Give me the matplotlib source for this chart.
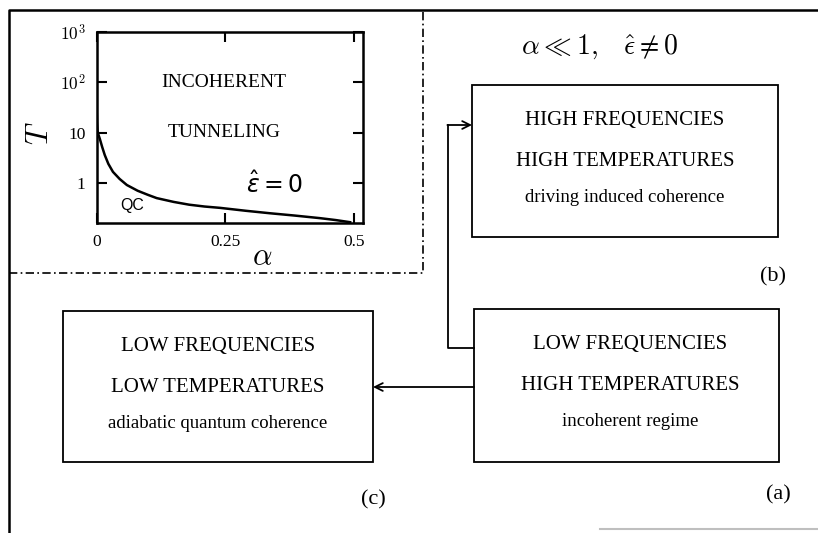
import matplotlib
matplotlib.use("Agg")
from matplotlib import pyplot as plt
from matplotlib.patches import Rectangle
import numpy as np

plt.rcParams['font.family'] = ['Liberation Serif', 'DejaVu Serif']
plt.rcParams['mathtext.fontset'] = 'cm'

# crossover curve T(alpha)
alpha = [0.0005, 0.001, 0.002, 0.0035, 0.0065, 0.011, 0.016, 0.023, 0.032,
         0.045, 0.059, 0.08, 0.1, 0.117, 0.15, 0.18, 0.21, 0.24, 0.29,
         0.337, 0.385, 0.434, 0.465, 0.493]
T = [25, 16, 11, 9.3, 7.5, 5.2, 3.6, 2.4, 1.66,
     1.2, 0.91, 0.7, 0.58, 0.5, 0.42, 0.37, 0.34, 0.32, 0.28,
     0.25, 0.225, 0.2, 0.183, 0.166]

x_ticks = [0, 0.25, 0.5]
x_ticklabels = ['0', '0.25', '0.5']
y_ticks = [1, 10, 100, 1000]
y_ticklabels = ['1', '10', r'$10^2$', r'$10^3$']

box_a = ['LOW FREQUENCIES', 'HIGH TEMPERATURES', 'incoherent regime']
box_b = ['HIGH FREQUENCIES', 'HIGH TEMPERATURES', 'driving induced coherence']
box_c = ['LOW FREQUENCIES', 'LOW TEMPERATURES', 'adiabatic quantum coherence']

fig = plt.figure(figsize=(8.18, 5.33), dpi=100)

# canvas in pixel units for the diagram part
ax = fig.add_axes([0, 0, 1, 1])
ax.set_xlim(0, 818)
ax.set_ylim(533, 0)
ax.axis('off')

# outer frame (cut off at right/bottom in the scan)
ax.plot([9, 9, 818], [533, 10, 10], color='black', lw=1.8)
ax.plot([600, 818], [529, 529], color='0.75', lw=1.5)
# dash-dot box round the inset
ax.plot([9, 423, 423], [273, 273, 10], color='black', lw=1.2,
        dashes=[5, 2, 1, 2])


def draw_box(x0, y0, x1, y1, lines, xc=None):
    ax.add_patch(Rectangle((x0, y0), x1 - x0, y1 - y0, fill=False,
                           ec='black', lw=1.3))
    if xc is None:
        xc = (x0 + x1) / 2
    offs = [35, 76, 113]
    sizes = [15, 15, 13.5]
    for txt, dy, s in zip(lines, offs, sizes):
        ax.text(xc, y0 + dy, txt, ha='center', va='center', fontsize=s)


draw_box(472, 85, 778, 237, box_b)
draw_box(474, 309, 779, 462, box_a, xc=630)
draw_box(63, 311, 373, 462, box_c)

ax.text(599, 47, r'$\alpha \ll 1,\;\;\; \hat{\epsilon} \neq 0$', ha='center',
        va='center', fontsize=20)
ax.text(773, 277, '(b)', ha='center', va='center', fontsize=16)
ax.text(778, 495, '(a)', ha='center', va='center', fontsize=16)
ax.text(373, 500, '(c)', ha='center', va='center', fontsize=16)

# connectors
ax.plot([474, 448, 448], [348, 348, 125], color='black', lw=1.3)
ax.annotate('', xy=(472, 125), xytext=(447.4, 125),
            arrowprops=dict(arrowstyle='->', lw=1.3, color='black',
                            shrinkA=0, shrinkB=0, mutation_scale=14))
ax.annotate('', xy=(373, 387), xytext=(474, 387),
            arrowprops=dict(arrowstyle='->', lw=1.3, color='black',
                            shrinkA=0, shrinkB=0, mutation_scale=14))

# inset: phase diagram
ins = fig.add_axes([96.5 / 818, (533 - 223) / 533, 266.5 / 818, 191 / 533])
ins.plot(alpha, T, color='black', lw=1.8)
ins.set_yscale('log')
ins.set_xlim(0, 0.518)
ins.set_ylim(0.16, 1000)
ins.set_xticks(x_ticks)
ins.set_xticklabels(x_ticklabels)
ins.set_yticks(y_ticks)
ins.set_yticklabels(y_ticklabels)
ins.minorticks_off()
ins.tick_params(direction='in', length=7, width=1.5, top=True, right=True,
                labelsize=12.5, pad=8)
for sp in ins.spines.values():
    sp.set_linewidth(1.8)

# axis labels placed by centre
ins.text(-0.21, 0.47, r'$T$', transform=ins.transAxes, rotation=90,
         ha='center', va='center', fontsize=22)
ins.text(0.62, -0.18, r'$\alpha$', transform=ins.transAxes,
         ha='center', va='center', fontsize=22)

ins.text(0.248, 100, 'INCOHERENT', ha='center', va='center', fontsize=14)
ins.text(0.248, 10, 'TUNNELING', ha='center', va='center', fontsize=14)
ins.text(0.347, 0.93, r'$\hat{\varepsilon} = 0$', ha='center', va='center',
         fontsize=17, math_fontfamily='dejavusans')
ins.text(0.069, 0.36, 'QC', ha='center', va='center', fontsize=11.5,
         family='Liberation Sans')

fig.savefig('out.png', dpi=100)
